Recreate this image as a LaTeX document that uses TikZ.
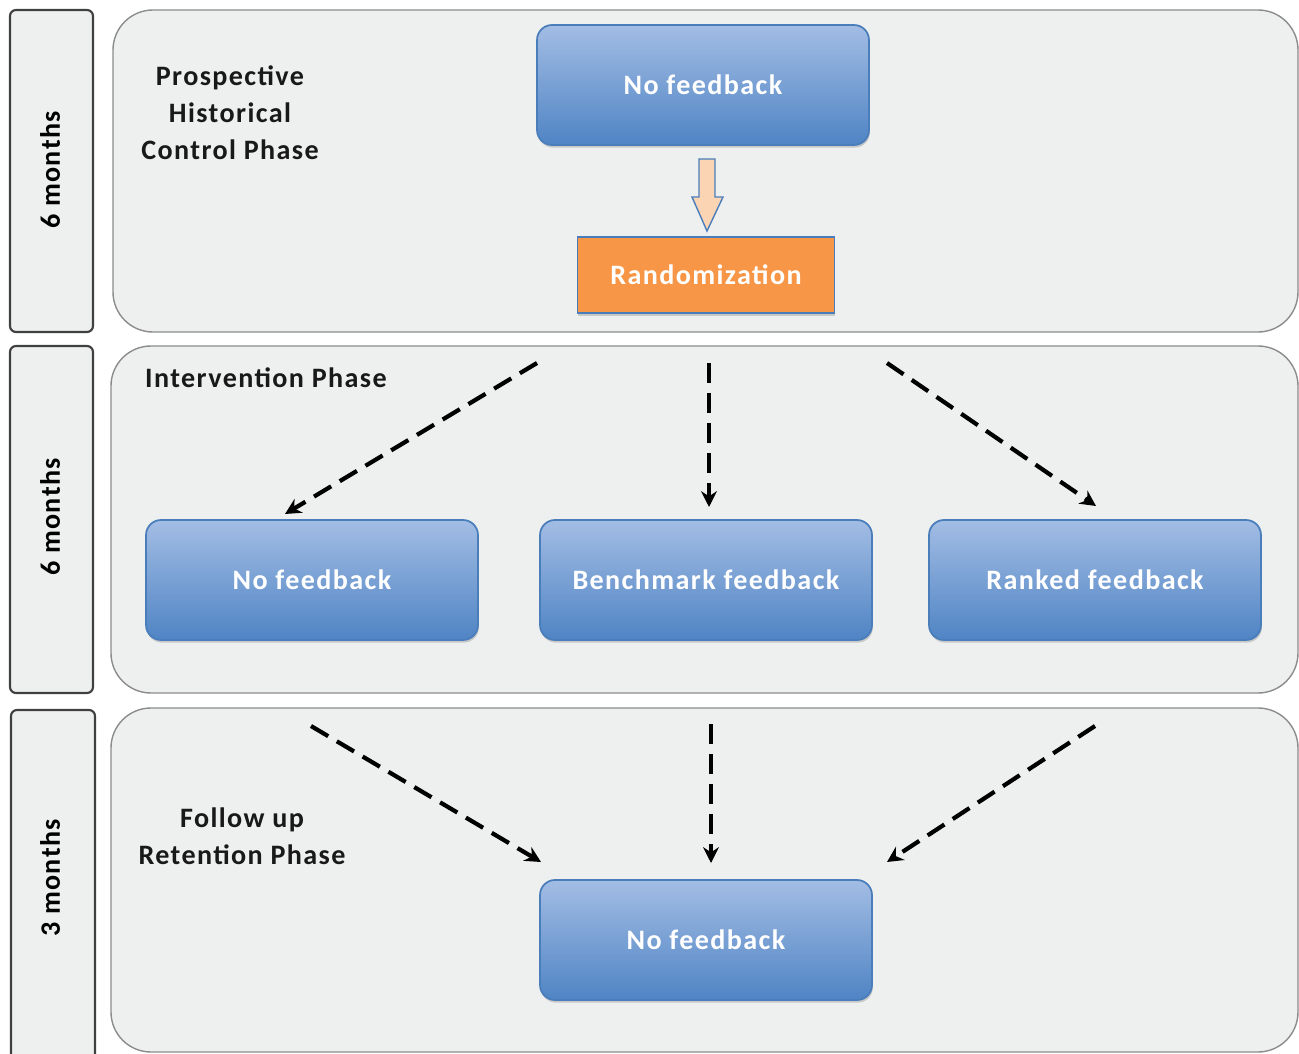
\documentclass[tikz,border=0pt]{standalone}
\usepackage{fontspec}
\setmainfont[LetterSpace=5]{Carlito}
\usetikzlibrary{shadows,arrows.meta}

\definecolor{panelgray}{HTML}{EEEFEF}
\definecolor{boxtop}{HTML}{A3BDE4}
\definecolor{boxbot}{HTML}{4F84C4}
\definecolor{boxline}{HTML}{4A7EBB}
\definecolor{randfill}{HTML}{F79646}
\definecolor{arrowfill}{HTML}{FBD4B4}

\tikzset{
  sidebar/.style={draw=black!75, line width=1.2pt, fill=panelgray, rounded corners=0.12cm},
  panel/.style={draw=black!45, line width=0.8pt, fill=panelgray, rounded corners=0.8cm},
  fbbox/.style={draw=boxline, line width=1pt, rounded corners=0.3cm,
    top color=boxtop, bottom color=boxbot, text=white, font=\bigbold,
    minimum width=6.64cm, minimum height=2.4cm,
    drop shadow={shadow xshift=0.5pt, shadow yshift=-1.5pt, opacity=0.35}},
  phase/.style={font=\bigbold, align=center, text=black!90},
  months/.style={font=\bigbold, rotate=90},
  flow/.style={line width=2.4pt, dash pattern=on 0.4cm off 0.2cm, -{Stealth[length=9pt,width=9pt]}}
}
\newcommand{\bigbold}{\bfseries\fontsize{16}{21}\selectfont}

\begin{document}
\begin{tikzpicture}[x=0.02cm, y=-0.02cm]
        \clip (0,0) rectangle (1299,1054);
        \fill[white] (0,0) rectangle (1299,1054);

        % side bars with the durations
        \draw[sidebar] (10,10) rectangle (93,332);
        \draw[sidebar] (10,346) rectangle (93,693);
        \draw[sidebar] (11,710) rectangle (95,1070);
        \node[months] (m1) at (50,170) {6 months};
        \node[months] (m2) at (50,517) {6 months};
        \node[months] (m3) at (50,878) {3 months};

        % the three phases
        \draw[panel] (113,10) rectangle (1298,332);
        \draw[panel] (111,346) rectangle (1298,693);
        \draw[panel] (111,708) rectangle (1298,1052);

        \node[phase] (ph1) at (230,113) {Prospective\\Historical\\Control Phase};
        \node[phase, anchor=west] (ph2) at (139,378) {Intervention Phase};
        \node[phase] (ph3) at (242,836) {Follow up\\Retention Phase};

        % boxes
        \node[fbbox] (fbtop) at (703,85) {No feedback};
        \node[draw=boxline, line width=1pt, fill=randfill, text=white, font=\bigbold,
              minimum width=5.14cm, minimum height=1.52cm,
              drop shadow={shadow xshift=0.5pt, shadow yshift=-1.5pt, opacity=0.35}]
              (rand) at (706,275) {Randomization};
        \node[fbbox] (fbnone) at (312,580) {No feedback};
        \node[fbbox] (fbbench) at (706,580) {Benchmark feedback};
        \node[fbbox] (fbrank) at (1095,580) {Ranked feedback};
        \node[fbbox] (fbend) at (706,940) {No feedback};

        % block arrow to the randomization
        \draw[draw=boxline, line width=0.8pt, fill=arrowfill]
            (699,159) -- (715,159) -- (715,197) -- (723,197) -- (707,231)
            -- (692,197) -- (699,197) -- cycle;

        % dashed arrows
        \coordinate (s1) at (537,363);
        \coordinate (s2) at (709,363);
        \coordinate (s3) at (887,363);
        \coordinate (e1) at (285,514);
        \coordinate (e2) at (709,507);
        \coordinate (e3) at (1096,506);
        \draw[flow] (s1) -- (e1);
        \draw[flow] (s2) -- (e2);
        \draw[flow] (s3) -- (e3);

        \coordinate (t1) at (311,726);
        \coordinate (t2) at (711,724);
        \coordinate (t3) at (1095,726);
        \coordinate (u1) at (541,862);
        \coordinate (u2) at (711,863);
        \coordinate (u3) at (887,862);
        \draw[flow] (t1) -- (u1);
        \draw[flow] (t2) -- (u2);
        \draw[flow] (t3) -- (u3);
\end{tikzpicture}
\end{document}
